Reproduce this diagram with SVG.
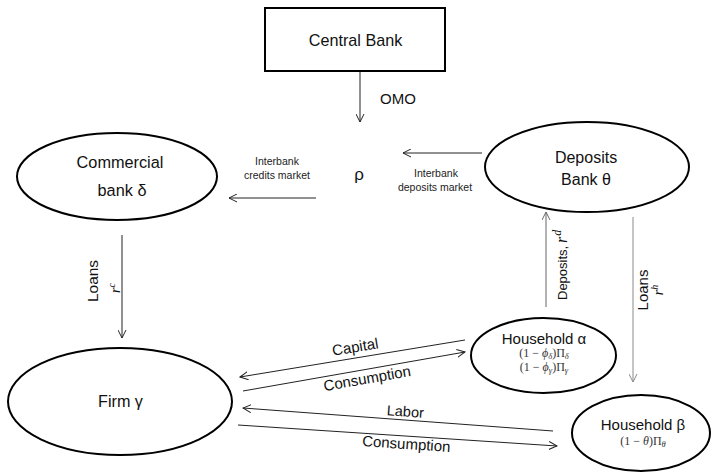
<svg xmlns="http://www.w3.org/2000/svg" width="713" height="473" viewBox="0 0 713 473">
<style>
  .node { fill: #fff; stroke: #000; stroke-width: 2; }
  .lbl { font-family: "Liberation Sans", Arial, sans-serif; fill: #111; text-anchor: middle; }
  .small { font-family: "Liberation Sans", Arial, sans-serif; fill: #222; font-size: 10.5px; text-anchor: middle; }
  .math { font-family: "Liberation Serif", "DejaVu Serif", serif; fill: #333; font-size: 12px; text-anchor: middle; }
  .mi { font-family: "Liberation Serif", "DejaVu Serif", serif; font-style: italic; fill: #111; }
  .sub { font-size: 8.5px; font-style: italic; }
  .conn { stroke: #222; stroke-width: 1; fill: none; }
  .gray { stroke: #8a8a8a; }
  .mid { stroke: #666; }
</style>
<defs>
  <marker id="ah" viewBox="0 0 10 10" refX="9" refY="5" markerWidth="9" markerHeight="9" markerUnits="userSpaceOnUse" orient="auto">
    <path d="M0,0.5 L9,5 L0,9.5" fill="none" stroke="#222" stroke-width="1.1"/>
  </marker>
  <marker id="ahg" viewBox="0 0 10 10" refX="9" refY="5" markerWidth="9" markerHeight="9" markerUnits="userSpaceOnUse" orient="auto">
    <path d="M0,0.5 L9,5 L0,9.5" fill="none" stroke="#8a8a8a" stroke-width="1.1"/>
  </marker>
  <marker id="ahm" viewBox="0 0 10 10" refX="9" refY="5" markerWidth="9" markerHeight="9" markerUnits="userSpaceOnUse" orient="auto">
    <path d="M0,0.5 L9,5 L0,9.5" fill="none" stroke="#666" stroke-width="1.1"/>
  </marker>
</defs>

<g id="connectors">
  <line class="conn" x1="360" y1="71" x2="360" y2="122" marker-end="url(#ah)"/>
  <line class="conn" x1="482" y1="153" x2="403" y2="153" marker-end="url(#ah)"/>
  <line class="conn" x1="316" y1="198" x2="229" y2="198" marker-end="url(#ah)"/>
  <line class="conn" x1="122" y1="235" x2="122" y2="338" marker-end="url(#ah)"/>
  <line class="conn mid" x1="546" y1="307" x2="546" y2="212" marker-end="url(#ahm)"/>
  <line class="conn gray" x1="633" y1="217" x2="633" y2="382" marker-end="url(#ahg)"/>
  <line class="conn" x1="465" y1="340" x2="240" y2="377" marker-end="url(#ah)"/>
  <line class="conn" x1="243" y1="391" x2="465" y2="352" marker-end="url(#ah)"/>
  <line class="conn" x1="553" y1="431" x2="243" y2="408" marker-end="url(#ah)"/>
  <line class="conn" x1="238" y1="425" x2="557" y2="446" marker-end="url(#ah)"/>

  <text class="lbl" x="398" y="104" font-size="15">OMO</text>
  <text class="small" x="277" y="165">Interbank</text>
  <text class="small" x="277" y="179">credits market</text>
  <text class="small" x="436" y="177">Interbank</text>
  <text class="small" x="435" y="191">deposits market</text>

  <text class="lbl" font-size="15.5" transform="translate(98,281) rotate(-90)">Loans</text>
  <text class="mi" font-size="14" text-anchor="middle" transform="translate(120,288) rotate(-90)">r<tspan dy="-5" font-size="10">c</tspan></text>

  <text class="lbl" font-size="13" style="text-anchor:start" transform="translate(567,300) rotate(-90)">Deposits,</text>
  <text class="mi" font-size="16" transform="translate(567,243) rotate(-90)">r<tspan dx="1" dy="-6" font-size="12">d</tspan></text>

  <text class="lbl" font-size="15" transform="translate(648,290) rotate(-90)">Loans</text>
  <text class="mi" font-size="14" text-anchor="middle" transform="translate(663,290) rotate(-90)">r<tspan dy="-5" font-size="10">h</tspan></text>

  <text class="lbl" font-size="15" transform="translate(356,352) rotate(-9.3)">Capital</text>
  <text class="lbl" font-size="15" transform="translate(368,383.5) rotate(-10)">Consumption</text>
  <text class="lbl" font-size="14.5" transform="translate(405,416.5) rotate(4.1)">Labor</text>
  <text class="lbl" font-size="15" transform="translate(406,449) rotate(3.8)">Consumption</text>
</g>

<g id="central-bank">
  <rect class="node" x="265" y="8" width="180" height="63"/>
  <text class="lbl" x="355.5" y="46" font-size="16.2">Central Bank</text>
</g>

<g id="rho">
  <text class="lbl" x="359" y="180" font-size="17">ρ</text>
</g>

<g id="commercial-bank">
  <ellipse class="node" cx="117" cy="176.5" rx="100" ry="43.5"/>
  <text class="lbl" x="120" y="168" font-size="16.3">Commercial</text>
  <text class="lbl" x="122" y="196" font-size="16.3">bank δ</text>
</g>

<g id="deposits-bank">
  <ellipse class="node" cx="587" cy="167" rx="102" ry="45"/>
  <text class="lbl" x="586" y="163" font-size="16">Deposits</text>
  <text class="lbl" x="586" y="185" font-size="16">Bank θ</text>
</g>

<g id="firm">
  <ellipse class="node" cx="120" cy="401.5" rx="112" ry="53.5"/>
  <text class="lbl" x="120.5" y="407" font-size="16.2">Firm γ</text>
</g>

<g id="household-alpha">
  <ellipse class="node" cx="543.5" cy="355.5" rx="72.5" ry="37.5"/>
  <text class="lbl" x="544" y="344" font-size="15">Household α</text>
  <text class="math" x="544" y="356.5">(1 − <tspan font-style="italic">ϕ</tspan><tspan class="sub" dy="2">δ</tspan><tspan dy="-2">)Π</tspan><tspan class="sub" dy="2">δ</tspan></text>
  <text class="math" x="544" y="370.5">(1 − <tspan font-style="italic">ϕ</tspan><tspan class="sub" dy="2">γ</tspan><tspan dy="-2">)Π</tspan><tspan class="sub" dy="2">γ</tspan></text>
</g>

<g id="household-beta">
  <ellipse class="node" cx="641" cy="433" rx="69" ry="38"/>
  <text class="lbl" x="643" y="429.5" font-size="15">Household β</text>
  <text class="math" x="643" y="445" font-size="11.5">(1 − <tspan font-style="italic">θ</tspan>)Π<tspan class="sub" dy="2">θ</tspan></text>
</g>
</svg>
